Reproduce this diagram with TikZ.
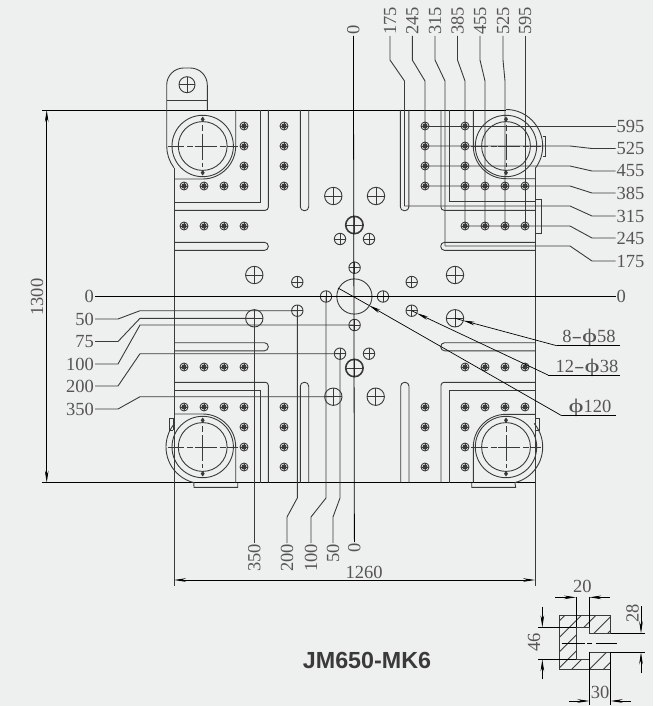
\documentclass[tikz,border=0pt]{standalone}
\usepackage{graphicx}
\usepackage{fontspec}
\setmainfont{Liberation Serif}
\newfontfamily\titlefont{Liberation Sans}
\usetikzlibrary{arrows.meta}
\definecolor{bgc}{HTML}{EEF0EF}
\definecolor{ink}{HTML}{3A3A3A}
\definecolor{txt}{HTML}{555555}
\newcommand{\phisym}{\scalebox{1.55}[1.05]{ϕ}}
\newcommand{\widehy}{\scalebox{1.7}[1]{-}}
\tikzset{
  part/.style={draw=ink,line width=0.9pt},
  leader/.style={draw=ink,line width=0.9pt},
  cline/.style={draw=black,line width=0.8pt},
  dimline/.style={draw=black,line width=0.7pt},
  dimtip/.style={-{Stealth[length=12pt,width=3.6pt]}},
  dimboth/.style={{Stealth[length=12pt,width=3.6pt]}-{Stealth[length=12pt,width=3.6pt]}},
  lab/.style={font=\fontsize{18.5}{18.5}\selectfont,text=txt,inner sep=1pt},
  crossed/.style={circle,draw=ink,inner sep=0pt,path picture={
    \draw[ink,line width=0.7pt] (path picture bounding box.west) -- (path picture bounding box.east)
      (path picture bounding box.north) -- (path picture bounding box.south);}},
  hole120/.style={circle,draw=ink,line width=0.9pt,inner sep=0pt,minimum size=35.2pt},
  hole38/.style={crossed,line width=0.9pt,minimum size=11.4pt},
  hole58/.style={crossed,line width=0.9pt,minimum size=17.4pt},
  holebold/.style={crossed,line width=1.6pt,minimum size=17.4pt},
  holelug/.style={crossed,line width=0.9pt,minimum size=16pt},
  dot/.style={crossed,line width=0.9pt,minimum size=8pt},
}
\newcommand{\tiebar}[2]{%
  \draw[part] (#1,#2) circle (30.7);
  \draw[part] (#1,#2) circle (24.4);
  \draw[part,dashed,dash pattern=on 6pt off 3pt] (#1-24.4,#2) -- (#1-8,#2) (#1+8,#2) -- (#1+24.4,#2);
  \draw[part,dashed,dash pattern=on 6pt off 3pt] (#1,#2-21) -- (#1,#2-8) (#1,#2+8) -- (#1,#2+21);
  \draw[part] (#1-8,#2) -- (#1+8,#2) (#1,#2-8) -- (#1,#2+8);
  \draw[part] (#1-35,#2) -- (#1-24.4,#2) (#1+24.4,#2) -- (#1+35,#2);
  \fill[ink] (#1,#2-29.5) -- (#1+2,#2-26.7) -- (#1,#2-24) -- (#1-2,#2-26.7) -- cycle;
  \fill[ink] (#1,#2+29.5) -- (#1+2,#2+26.7) -- (#1,#2+24) -- (#1-2,#2+26.7) -- cycle;
}
\begin{document}
\begin{tikzpicture}[x=1pt,y=-1pt]
\useasboundingbox (0,0) rectangle (653,706);
\fill[bgc] (0,0) rectangle (653,706);

% ---- plate outline and extension lines
\draw[dimline] (42,110) -- (506,110);
\draw[dimline] (42,482.7) -- (535,482.7);
\draw[part] (174,167.6) -- (174,586);
\draw[part] (535,168) -- (535,586);

% ---- lug, top left
\draw[part] (166.7,146) -- (166.7,85) arc[start angle=180,end angle=270,radius=17] -- (190.3,68)
  arc[start angle=-90,end angle=0,radius=17] -- (207.3,110);
\draw[part] (166.7,100) -- (207.3,100);
\draw[part] (166.7,146) arc[start angle=180,end angle=143,radius=36];
\node[holelug] (lug) at (187,84.7) {};

% ---- corner frames
\draw[part] (235.7,110) -- (235.7,146) arc[start angle=0,end angle=90,radius=33] -- (174,179);
\draw[part] (260.3,110) -- (260.3,202.3) -- (174,202.3);
\draw[part,rounded corners=3] (268.3,110) -- (268.3,210.3) -- (174,210.3);
\draw[part,rounded corners=3.9] (300.3,110) -- (300.3,210.7) -- (308.7,210.7) -- (308.7,110);
\draw[part,rounded corners=3.9] (174,242.3) -- (268.3,242.3) -- (268.3,250.4) -- (174,250.4);

\draw[part] (473.3,110) -- (473.3,146) arc[start angle=180,end angle=90,radius=32.7] -- (535,178.7);
\draw[part] (449,110) -- (449,201.7) -- (535,201.7);
\draw[part,rounded corners=3] (441,110) -- (441,210.3) -- (535,210.3);
\draw[part,rounded corners=3.9] (400.3,110) -- (400.3,210.7) -- (408.9,210.7) -- (408.9,110);
\draw[part,rounded corners=3.9] (535,242.3) -- (440.7,242.3) -- (440.7,250.4) -- (535,250.4);
\draw[part] (506,109.5) arc[start angle=-90,end angle=37,radius=36.7];
\draw[part] (542.7,136) -- (545,136) -- (545,156.7) -- (542.7,156.7);
\draw[part] (535,199) -- (541.3,199) -- (541.3,233.3) -- (535,233.3);

\draw[part] (235.7,482.7) -- (235.7,447) arc[start angle=0,end angle=-90,radius=33] -- (174,414);
\draw[part] (260.3,482.7) -- (260.3,390.7) -- (174,390.7);
\draw[part,rounded corners=3] (268.3,482.7) -- (268.3,382.3) -- (174,382.3);
\draw[part,rounded corners=3.9] (300.3,482.7) -- (300.3,382.3) -- (308.7,382.3) -- (308.7,482.7);
\draw[part,rounded corners=3.9] (174,342.7) -- (268.3,342.7) -- (268.3,350.8) -- (174,350.8);
\draw[part] (202.7,447) ++(-140:36.7) arc[start angle=-140,end angle=-256,radius=36.7] -- (194,487.3) -- (237.7,487.3) -- (237.7,482.7);
\draw[part] (173.3,430) -- (169,430) -- (169,418.3) -- (173.3,418.3) -- (173.3,430);

\draw[part] (473.3,482.7) -- (473.3,447) arc[start angle=180,end angle=270,radius=32.7] -- (535,414.3);
\draw[part] (449,482.7) -- (449,390.7) -- (535,390.7);
\draw[part,rounded corners=3] (441,482.7) -- (441,382.3) -- (535,382.3);
\draw[part,rounded corners=3.9] (400.7,482.7) -- (400.7,382.3) -- (409,382.3) -- (409,482.7);
\draw[part,rounded corners=3.9] (535,342.7) -- (440.7,342.7) -- (440.7,350.8) -- (535,350.8);
\draw[part] (506,447) ++(-40:36.7) arc[start angle=-40,end angle=76,radius=36.7] -- (515.7,487.3) -- (471.7,487.3) -- (471.7,482.7);
\draw[part] (535.7,418.3) -- (539.7,418.3) -- (539.7,430) -- (535.7,430);

% ---- tie bars
\tiebar{202.7}{146}
\tiebar{506}{146}
\tiebar{202.7}{447}
\tiebar{506}{447}

% ---- tapped holes
\foreach \x/\y in {184/186,204/186,224/186,244/186,184/226,204/226,224/226,244/226,
  244/126,244/146,244/166,284/126,284/146,284/166,284/186,
  425/126,425/146,425/166,425/186,465/126,465/146,465/166,465/186,485/186,505/186,525/186,
  465/226,485/226,505/226,525/226,
  184/367,204/367,224/367,244/367,184/407,204/407,224/407,244/407,284/407,
  244/427,244/447,244/467,284/427,284/447,284/467,
  465/367,485/367,505/367,525/367,465/407,485/407,505/407,525/407,425/407,
  425/427,425/447,425/467,465/427,465/447,465/467}{
  \node[dot] (d\x x\y) at (\x,\y) {};
  \fill[ink] (\x,\y) circle (2.5);
}

% ---- large holes
\node[hole120] (c120) at (354.4,296.5) {};
\coordinate (cc) at (338,288);
\node[hole38] (a1) at (297.3,282) {};
\node[hole38] (a2) at (297.3,310.7) {};
\node[hole38] (a3) at (326,296.5) {};
\node[hole38] (a4) at (383,296.5) {};
\node[hole38] (a5) at (354.6,267.7) {};
\node[hole38] (a6) at (354.6,325) {};
\node[hole38] (a7) at (340,353.7) {};
\node[hole38] (a8) at (369,353.7) {};
\node[hole38] (a9) at (340,239) {};
\node[hole38] (a10) at (369,239) {};
\node[hole38] (a11) at (411.7,282) {};
\node[hole38] (a12) at (411.7,310.7) {};
\node[hole58] (b1) at (254.3,275) {};
\node[hole58] (b2) at (254.3,318.3) {};
\node[hole58] (b3) at (333.3,396.7) {};
\node[hole58] (b4) at (375.7,396.7) {};
\node[hole58] (b5) at (333.3,196) {};
\node[hole58] (b6) at (376,196) {};
\node[hole58] (b7) at (455,275) {};
\node[hole58] (b8) at (455,318.3) {};
\node[holebold] (p1) at (354.4,225) {};
\node[holebold] (p2) at (354.4,368) {};

% ---- centre lines
\node[lab,rotate=90,anchor=west] (t0) at (353.4,36) {0};
\node[lab,rotate=90,anchor=east] (u0) at (354.4,542) {0};
\draw[cline] (u0.east) -- (t0.west);
\node[lab,anchor=east] (l0) at (95,296.5) {0};
\node[lab,anchor=west] (r0) at (615.5,296.5) {0};
\draw[cline] (l0.east) -- (r0.west);

% ---- left labels
\node[lab,anchor=east] (l50) at (95,319) {50};
\node[lab,anchor=east] (l75) at (95,341.5) {75};
\node[lab,anchor=east] (l100) at (95,364) {100};
\node[lab,anchor=east] (l200) at (95,386) {200};
\node[lab,anchor=east] (l350) at (95,409) {350};
\draw[leader] (l50.east) -- (118,319) -- (140,310.7) -- (a2.center);
\draw[leader] (l75.east) -- (118,341.5) -- (140,318.3) -- (b2.center);
\draw[leader] (l100.east) -- (118,364) -- (140,325) -- (a6.center);
\draw[leader] (l200.east) -- (118,386) -- (140,353.7) -- (a7.center);
\draw[leader] (l350.east) -- (118,409) -- (140,396.7) -- (b3.center);

% ---- bottom labels
\node[lab,rotate=90,anchor=east] (u350) at (254.3,543) {350};
\node[lab,rotate=90,anchor=east] (u200) at (287,543) {200};
\node[lab,rotate=90,anchor=east] (u100) at (311,543) {100};
\node[lab,rotate=90,anchor=east] (u50) at (333,543) {50};
\draw[leader] (b2.center) -- (u350.east);
\draw[leader] (a2.center) -- (297.3,498) -- (287,517) -- (u200.east);
\draw[leader] (a3.center) -- (326,498) -- (311,517) -- (u100.east);
\draw[leader] (a7.center) -- (340,498) -- (333,517) -- (u50.east);

% ---- top labels
\coordinate (s175) at (404.5,206);
\coordinate (s315) at (445,246);
\node[lab,rotate=90,anchor=west] (t175) at (390,36) {175};
\node[lab,rotate=90,anchor=west] (t245) at (412.3,36) {245};
\node[lab,rotate=90,anchor=west] (t315) at (435,36) {315};
\node[lab,rotate=90,anchor=west] (t385) at (457.5,36) {385};
\node[lab,rotate=90,anchor=west] (t455) at (480,36) {455};
\node[lab,rotate=90,anchor=west] (t525) at (503,36) {525};
\node[lab,rotate=90,anchor=west] (t595) at (525,36) {595};
\draw[leader] (t175.west) -- (390,60) -- (404.5,81) -- (s175);
\draw[leader] (t245.west) -- (412.3,60) -- (425,81) -- (d425x186.center);
\draw[leader] (t315.west) -- (435,60) -- (445,81) -- (s315);
\draw[leader] (t385.west) -- (457.5,60) -- (465,81) -- (d465x226.center);
\draw[leader] (t455.west) -- (480,60) -- (485,81) -- (d485x226.center);
\draw[leader] (t525.west) -- (503,60) -- (505,81) -- (d505x226.center);
\draw[leader] (t595.west) -- (d525x226.center);

% ---- right labels
\node[lab,anchor=west] (r595) at (615.5,126) {595};
\node[lab,anchor=west] (r525) at (615.5,148.5) {525};
\node[lab,anchor=west] (r455) at (615.5,171) {455};
\node[lab,anchor=west] (r385) at (615.5,193) {385};
\node[lab,anchor=west] (r315) at (615.5,216) {315};
\node[lab,anchor=west] (r245) at (615.5,238) {245};
\node[lab,anchor=west] (r175) at (615.5,261) {175};
\draw[leader] (d425x126.center) -- (r595.west);
\draw[leader] (d425x146.center) -- (570,146) -- (592,148.5) -- (r525.west);
\draw[leader] (d425x166.center) -- (570,166) -- (592,171) -- (r455.west);
\draw[leader] (d425x186.center) -- (570,186) -- (592,193) -- (r385.west);
\draw[leader] (s175) -- (570,206) -- (592,216) -- (r315.west);
\draw[leader] (d465x226.center) -- (570,226) -- (592,238) -- (r245.west);
\draw[leader] (s315) -- (570,246) -- (592,261) -- (r175.west);

% ---- hole callouts
\node[lab,anchor=base] (n58) at (589,342) {8\widehy\phisym58};
\node[lab,anchor=base] (n38) at (587,372) {12\widehy\phisym38};
\node[lab,anchor=base] (n120) at (590,412) {\phisym120};
\coordinate (u58) at (556.7,345.7);
\coordinate (u38) at (548,375);
\coordinate (u120) at (561.7,415.7);
\draw[dimline] (620,345.7) -- (u58);
\draw[dimline] (620,375) -- (u38);
\draw[dimline] (616,415.7) -- (u120);
\draw[dimline,dimtip] (u58) -- (463,320.5);
\draw[dimline] (463,320.5) -- (b8.center);
\draw[dimline,dimtip] (u38) -- (416.7,313.2);
\draw[dimline] (416.7,313.2) -- (a12.center);
\draw[dimline,dimtip] (u120) -- (369,305.4);
\draw[dimline] (369,305.4) -- (cc);

% ---- main dimensions
\coordinate (d13a) at (46.7,110);
\coordinate (d13b) at (46.7,482.7);
\draw[dimline,dimboth] (d13a) -- (d13b);
\node[lab,rotate=90] (v1300) at (37,297) {1300};
\coordinate (d12a) at (174,580);
\coordinate (d12b) at (535,580);
\draw[dimline,dimboth] (d12a) -- (d12b);
\node[lab] (v1260) at (364,572) {1260};

\node[font=\titlefont\bfseries\fontsize{23.3}{23.3}\selectfont,text=ink,inner sep=0pt] (title) at (367,660) {JM650-MK6};

% ---- section of the slot
\begin{scope}[shift={(510,570)},x=0.33333pt,y=-0.33333pt]
\begin{scope}
\clip (148,136) -- (302,136) -- (302,190) -- (238,190) -- (238,172) -- (198,172) -- (198,268) -- (238,268) -- (238,247) -- (302,247) -- (302,298) -- (148,298) -- cycle;
\foreach \c in {301,350,394,442,483,536,578}{
  \draw[part] (\c-80,80) -- (\c-380,380);
}
\end{scope}
\draw[part] (148,136) -- (302,136) -- (302,190) -- (238,190) -- (238,172) -- (198,172) -- (198,268) -- (238,268) -- (238,247) -- (302,247) -- (302,298) -- (148,298) -- cycle;
\draw[dimline] (155,219) -- (225,219) (232,219) -- (245,219) (258,219) -- (322,219);
\draw[dimline] (85,172) -- (198,172) (85,268) -- (198,268);
\draw[dimline] (198,80) -- (198,172) (238,80) -- (238,172);
\draw[dimline] (238,247) -- (238,405) (302,247) -- (302,405);
\draw[dimline] (302,190) -- (405,190) (302,247) -- (405,247);
\draw[dimline,dimtip] (136,82) -- (198,82);
\draw[dimline,dimtip] (300,82) -- (238,82);
\draw[dimline,dimtip] (97,110) -- (97,172);
\draw[dimline,dimtip] (97,328) -- (97,268);
\draw[dimline,dimtip] (393,108) -- (393,190);
\draw[dimline,dimtip] (393,310) -- (393,247);
\draw[dimline,dimtip] (178,393) -- (238,393);
\draw[dimline,dimtip] (362,393) -- (302,393);
\node[lab] (v20) at (217,50) {20};
\node[lab,rotate=90] (v46) at (72,217) {46};
\node[lab,rotate=90] (v28) at (368,130) {28};
\node[lab] (v30) at (270,368) {30};
\end{scope}
\end{tikzpicture}
\end{document}
